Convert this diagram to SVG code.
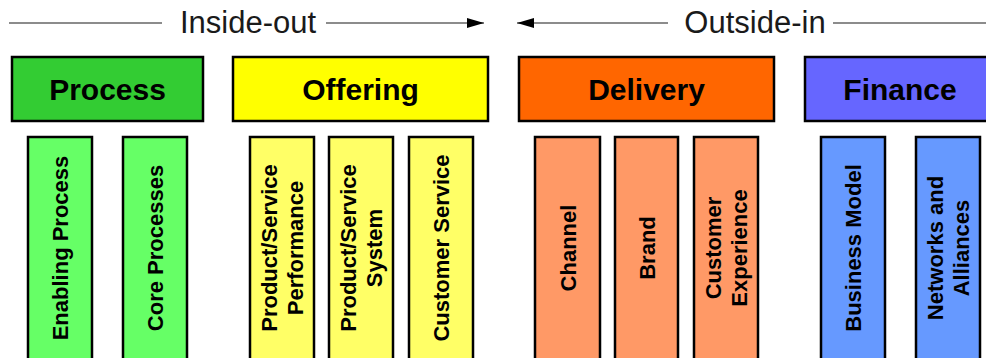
<svg xmlns="http://www.w3.org/2000/svg" width="986" height="358" viewBox="0 0 986 358">
<style>
.hd{stroke:#000;stroke-width:2.5}
.sb{stroke:#000;stroke-width:2.5}
.ht{font-family:"Liberation Sans",Arial,sans-serif;font-weight:bold;font-size:30px;fill:#000;text-anchor:middle}
.vt{font-family:"Liberation Sans",Arial,sans-serif;font-weight:bold;font-size:22px;fill:#000;text-anchor:middle}
.dt{font-family:"Liberation Sans",Arial,sans-serif;font-size:31px;fill:#1a1a1a;text-anchor:middle}
.ln{stroke:#666;stroke-width:1.6;fill:none}
</style>
<defs>
<marker id="ah" markerWidth="17" markerHeight="10" refX="17" refY="5" orient="auto" markerUnits="userSpaceOnUse">
<path d="M0,0 L17,5 L0,10 Z" fill="#000"/>
</marker>
</defs>
<g id="connectors">
<line class="ln" x1="9" y1="23" x2="162" y2="23"/>
<line class="ln" x1="326" y1="23" x2="484" y2="23" marker-end="url(#ah)"/>
<line class="ln" x1="668" y1="23" x2="517" y2="23" marker-end="url(#ah)"/>
<line class="ln" x1="833" y1="23" x2="986" y2="23"/>
</g>
<g id="label-inside-out"><text class="dt" x="248" y="33">Inside-out</text></g>
<g id="label-outside-in"><text class="dt" x="755" y="33">Outside-in</text></g>

<g id="process">
<rect class="hd" x="12" y="57" width="191" height="64" fill="#33cc33"/>
<text class="ht" x="107.5" y="99.5">Process</text>
</g>
<g id="offering">
<rect class="hd" x="233" y="57" width="255" height="64" fill="#ffff00"/>
<text class="ht" x="360.5" y="99.5">Offering</text>
</g>
<g id="delivery">
<rect class="hd" x="519" y="57" width="255" height="64" fill="#ff6600"/>
<text class="ht" x="646.5" y="99.5">Delivery</text>
</g>
<g id="finance">
<rect class="hd" x="805" y="57" width="190" height="64" fill="#6666ff"/>
<text class="ht" x="900" y="99.5">Finance</text>
</g>

<g id="enabling-process">
<rect class="sb" x="28" y="137" width="64" height="230" fill="#66ff66"/>
<text class="vt" transform="translate(60,248) rotate(-90)" y="8">Enabling Process</text>
</g>
<g id="core-processes">
<rect class="sb" x="123" y="137" width="64" height="230" fill="#66ff66"/>
<text class="vt" transform="translate(155,248) rotate(-90)" y="8">Core Processes</text>
</g>
<g id="ps-performance">
<rect class="sb" x="250" y="137" width="64" height="230" fill="#ffff66"/>
<text class="vt" transform="translate(282,248) rotate(-90)"><tspan x="0" y="-5">Product/Service</tspan><tspan x="0" y="21">Performance</tspan></text>
</g>
<g id="ps-system">
<rect class="sb" x="329" y="137" width="64" height="230" fill="#ffff66"/>
<text class="vt" transform="translate(361,248) rotate(-90)"><tspan x="0" y="-5">Product/Service</tspan><tspan x="0" y="21">System</tspan></text>
</g>
<g id="customer-service">
<rect class="sb" x="409" y="137" width="64" height="230" fill="#ffff66"/>
<text class="vt" transform="translate(441,248) rotate(-90)" y="8">Customer Service</text>
</g>
<g id="channel">
<rect class="sb" x="535" y="137" width="65" height="230" fill="#ff9966"/>
<text class="vt" transform="translate(567.5,248) rotate(-90)" y="8">Channel</text>
</g>
<g id="brand">
<rect class="sb" x="615" y="137" width="63" height="230" fill="#ff9966"/>
<text class="vt" transform="translate(646.5,248) rotate(-90)" y="8">Brand</text>
</g>
<g id="customer-experience">
<rect class="sb" x="694" y="137" width="64" height="230" fill="#ff9966"/>
<text class="vt" transform="translate(726,248) rotate(-90)"><tspan x="0" y="-5">Customer</tspan><tspan x="0" y="21">Experience</tspan></text>
</g>
<g id="business-model">
<rect class="sb" x="821" y="137" width="64" height="230" fill="#6699ff"/>
<text class="vt" transform="translate(853,248) rotate(-90)" y="8">Business Model</text>
</g>
<g id="networks-alliances">
<rect class="sb" x="916" y="137" width="64" height="230" fill="#6699ff"/>
<text class="vt" transform="translate(948,248) rotate(-90)"><tspan x="0" y="-5">Networks and</tspan><tspan x="0" y="21">Alliances</tspan></text>
</g>
</svg>
